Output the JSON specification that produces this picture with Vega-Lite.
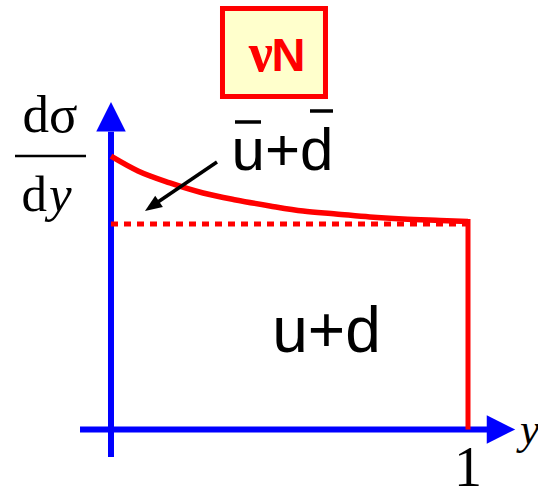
{
  "$schema": "https://vega.github.io/schema/vega-lite/v6.json",
  "width": 538,
  "height": 489,
  "autosize": {"type": "none"},
  "padding": 0,
  "background": "white",
  "config": {"view": {"stroke": null}},
  "encoding": {
    "x": {"field": "x", "type": "quantitative", "scale": {"domain": [-0.31092, 1.19608], "nice": false, "zero": false}, "axis": null},
    "y": {"field": "y", "type": "quantitative", "scale": {"domain": [-0.28954, 2.09002], "nice": false, "zero": false}, "axis": null}
  },
  "layer": [
    {
      "data": {"values": [
        {"x": -0.0868, "y": 0, "x2": 1.0532, "y2": 0},
        {"x": 0, "y": -0.1338, "x2": 0, "y2": 1.4491}
      ]},
      "mark": {"type": "rule", "color": "#0000FF", "strokeWidth": 6},
      "encoding": {"x2": {"field": "x2"}, "y2": {"field": "y2"}}
    },
    {
      "data": {"values": [{"x": 1.0924, "y": 0}]},
      "mark": {"type": "point", "shape": "M-1,-1L1,0L-1,1Z", "size": 812, "filled": true, "fill": "#0000FF", "strokeWidth": 0, "opacity": 1}
    },
    {
      "data": {"values": [{"x": 0, "y": 1.5221}]},
      "mark": {"type": "point", "shape": "M-1,1L0,-1L1,1Z", "size": 870, "filled": true, "fill": "#0000FF", "strokeWidth": 0, "opacity": 1}
    },
    {
      "data": {"values": [
        {"x": 0, "y": 1.330},
        {"x": 0.0756, "y": 1.2579},
        {"x": 0.165, "y": 1.200},
        {"x": 0.258, "y": 1.151},
        {"x": 0.350, "y": 1.117},
        {"x": 0.445, "y": 1.088},
        {"x": 0.538, "y": 1.063},
        {"x": 0.630, "y": 1.049},
        {"x": 0.725, "y": 1.034},
        {"x": 0.818, "y": 1.024},
        {"x": 0.922, "y": 1.017},
        {"x": 1.0, "y": 1.012}
      ]},
      "mark": {"type": "line", "color": "#FF0000", "strokeWidth": 5.5, "interpolate": "monotone"}
    },
    {
      "data": {"values": [{"x": 1.0, "y": 1.024, "x2": 1.0, "y2": 0}]},
      "mark": {"type": "rule", "color": "#FF0000", "strokeWidth": 5},
      "encoding": {"x2": {"field": "x2"}, "y2": {"field": "y2"}}
    },
    {
      "data": {"values": [{"x": 0, "y": 1, "x2": 1.0, "y2": 1}]},
      "mark": {"type": "rule", "color": "#FF0000", "strokeWidth": 5, "strokeDash": [7, 6]},
      "encoding": {"x2": {"field": "x2"}, "y2": {"field": "y2"}}
    },
    {
      "data": {"values": [
        {"x": 0.2969, "y": 1.3017, "x2": 0.1232, "y2": 1.0973},
        {"x": 0.3473, "y": 1.4964, "x2": 0.4202, "y2": 1.4964},
        {"x": 0.5574, "y": 1.5499, "x2": 0.6218, "y2": 1.5499}
      ]},
      "mark": {"type": "rule", "color": "#000000", "strokeWidth": 3.5},
      "encoding": {"x2": {"field": "x2"}, "y2": {"field": "y2"}}
    },
    {
      "data": {"values": [{"x": 0.0952, "y": 1.0633}]},
      "mark": {"type": "point", "shape": "M0,0L-2,-0.8L-2,0.8Z", "size": 289, "angle": 145.8, "filled": true, "fill": "#000000", "strokeWidth": 0, "opacity": 1}
    },
    {
      "data": {"values": [{"x": 0.3123, "y": 2.0487, "x2": 0.6008, "y2": 1.6204}]},
      "mark": {"type": "rect", "fill": "#FFFFCC", "stroke": "#FF0000", "strokeWidth": 5},
      "encoding": {"x2": {"field": "x2"}, "y2": {"field": "y2"}}
    },
    {
      "data": {"values": [{"x": 0.4538, "y": 1.7445, "t": "ν"}]},
      "mark": {"type": "text", "font": "Liberation Serif", "fontWeight": "bold", "fontSize": 54, "color": "#FF0000", "align": "right", "baseline": "alphabetic"},
      "encoding": {"text": {"field": "t"}}
    },
    {
      "data": {"values": [{"x": 0.4499, "y": 1.7445, "t": "N"}]},
      "mark": {"type": "text", "font": "Liberation Sans", "fontWeight": "bold", "fontSize": 47, "color": "#FF0000", "align": "left", "baseline": "alphabetic"},
      "encoding": {"text": {"field": "t"}}
    },
    {
      "data": {"values": [
        {"x": 0.4804, "y": 1.2628, "t": "u+d", "s": 60},
        {"x": 0.6036, "y": 0.3771, "t": "u+d", "s": 64}
      ]},
      "mark": {"type": "text", "font": "Liberation Sans", "color": "#000000", "align": "center", "baseline": "alphabetic"},
      "encoding": {"text": {"field": "t"}, "size": {"field": "s", "type": "quantitative", "scale": null}}
    },
    {
      "data": {"values": [
        {"x": -0.1709, "y": 1.4477, "t": "dσ"}
      ]},
      "mark": {"type": "text", "font": "Liberation Serif", "fontSize": 53, "color": "#000000", "align": "center", "baseline": "alphabetic"},
      "encoding": {"text": {"field": "t"}}
    },
    {
      "data": {"values": [
        {"x": -0.2689, "y": 1.3309, "x2": -0.0700, "y2": 1.3309}
      ]},
      "mark": {"type": "rule", "color": "#000000", "strokeWidth": 2.5},
      "encoding": {"x2": {"field": "x2"}, "y2": {"field": "y2"}}
    },
    {
      "data": {"values": [
        {"x": -0.1793, "y": 1.0633, "t": "d"}
      ]},
      "mark": {"type": "text", "font": "Liberation Serif", "fontSize": 51, "color": "#000000", "align": "right", "baseline": "alphabetic"},
      "encoding": {"text": {"field": "t"}}
    },
    {
      "data": {"values": [
        {"x": -0.1737, "y": 1.0633, "t": "y"}
      ]},
      "mark": {"type": "text", "font": "Liberation Serif", "fontStyle": "italic", "fontSize": 51, "color": "#000000", "align": "left", "baseline": "alphabetic"},
      "encoding": {"text": {"field": "t"}}
    },
    {
      "data": {"values": [
        {"x": 1.1457, "y": -0.0706, "t": "y"}
      ]},
      "mark": {"type": "text", "font": "Liberation Serif", "fontStyle": "italic", "fontSize": 44, "color": "#000000", "align": "left", "baseline": "alphabetic"},
      "encoding": {"text": {"field": "t"}}
    },
    {
      "data": {"values": [
        {"x": 1.0, "y": -0.2749, "t": "1"}
      ]},
      "mark": {"type": "text", "font": "Liberation Serif", "fontSize": 56, "color": "#000000", "align": "center", "baseline": "alphabetic"},
      "encoding": {"text": {"field": "t"}}
    }
  ]
}
